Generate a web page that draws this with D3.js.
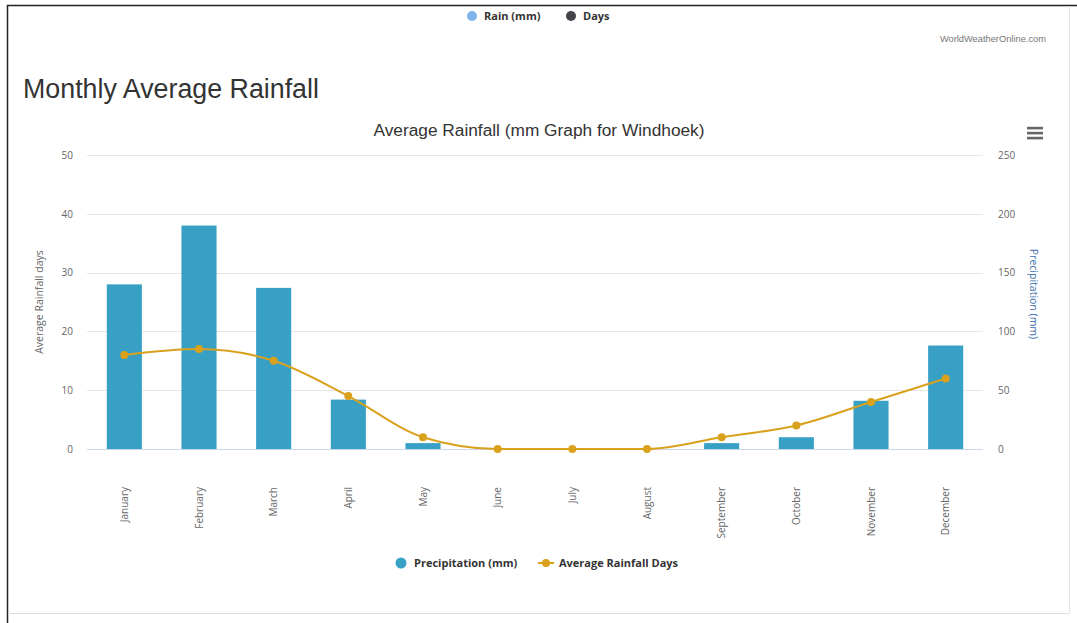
<!DOCTYPE html>
<html>
<head>
<meta charset="utf-8">
<script src="https://cdn.jsdelivr.net/npm/d3@7"></script>
<style>
  body { margin: 0; background: #fff; }
  svg { display: block; }
</style>
</head>
<body>
<svg id="chart"></svg>
<script>
const months = ["January", "February", "March", "April", "May", "June",
    "July", "August", "September", "October", "November", "December"];
const precipitation = [140, 190, 137, 42, 5, 0, 0, 0, 5, 10, 41, 88];
const rainDays = [16, 17, 15, 9, 2, 0, 0, 0, 2, 4, 8, 12];
const dayTicks = [0, 10, 20, 30, 40, 50];
const mmTicks = [0, 50, 100, 150, 200, 250];

const svgWidth = 1077, svgHeight = 623;
const margin = { top: 155, right: 94, bottom: 174, left: 87 };
const width = svgWidth - margin.left - margin.right;
const height = svgHeight - margin.top - margin.bottom;

const barColor = "#38a0c4";
const lineColor = "#d9a11c";
const font = "'Liberation Sans', Arial, sans-serif";
const uiFont = "'Open Sans', 'DejaVu Sans', sans-serif";

const svg = d3.select("#chart")
    .attr("width", svgWidth)
    .attr("height", svgHeight);

// frame
svg.append("line").attr("x1", 7).attr("x2", 1077).attr("y1", 5.5).attr("y2", 5.5)
    .attr("stroke", "#222").attr("stroke-width", 1.5);
svg.append("line").attr("x1", 7.5).attr("x2", 7.5).attr("y1", 5).attr("y2", 623)
    .attr("stroke", "#222").attr("stroke-width", 1.5);
svg.append("line").attr("x1", 1069.5).attr("x2", 1069.5).attr("y1", 6).attr("y2", 613)
    .attr("stroke", "#e4e4e4");
svg.append("line").attr("x1", 8).attr("x2", 1069).attr("y1", 613.5).attr("y2", 613.5)
    .attr("stroke", "#dcdcdc");

// top legend
const topLegend = [
    { label: "Rain (mm)", color: "#7cb5ec", x: 472 },
    { label: "Days", color: "#434348", x: 571 }
];
topLegend.forEach(d => {
    svg.append("circle").attr("cx", d.x).attr("cy", 16).attr("r", 5).attr("fill", d.color);
    svg.append("text").attr("x", d.x + 12).attr("y", 20)
        .attr("font-family", uiFont).attr("font-size", 11).attr("font-weight", "bold")
        .attr("fill", "#333").text(d.label);
});

svg.append("text").attr("x", 1046).attr("y", 42).attr("text-anchor", "end")
    .attr("font-family", font).attr("font-size", 9.3).attr("fill", "#777")
    .text("WorldWeatherOnline.com");

svg.append("text").attr("x", 23).attr("y", 98)
    .attr("font-family", font).attr("font-size", 26.8).attr("fill", "#333")
    .text("Monthly Average Rainfall");

svg.append("text").attr("x", 539).attr("y", 136).attr("text-anchor", "middle")
    .attr("font-family", font).attr("font-size", 17.3).attr("fill", "#333")
    .text("Average Rainfall (mm Graph for Windhoek)");

// hamburger
[128, 133, 138].forEach(y => {
    svg.append("rect").attr("x", 1027).attr("y", y - 1.2).attr("width", 16).attr("height", 2.6)
        .attr("fill", "#666");
});

const g = svg.append("g")
    .attr("transform", "translate(" + margin.left + "," + margin.top + ")");

const x = d3.scaleBand()
    .domain(months)
    .range([0, width])
    .paddingInner(0.53)
    .paddingOuter(0.265);

const xc = d3.scaleBand().domain(months).range([0, width]);

const yDays = d3.scaleLinear().domain([0, 50]).range([height, 0]);
const yMm = d3.scaleLinear().domain([0, 250]).range([height, 0]);

// grid
g.append("g")
    .selectAll("line")
    .data(dayTicks.slice(1))
    .join("line")
    .attr("x1", 0).attr("x2", width)
    .attr("y1", d => Math.round(yDays(d)) + 0.5)
    .attr("y2", d => Math.round(yDays(d)) + 0.5)
    .attr("stroke", "#e6e6e6");

// left axis
const leftAxis = g.append("g")
    .call(d3.axisLeft(yDays).tickValues(dayTicks).tickSize(0).tickPadding(14));
leftAxis.select(".domain").remove();
leftAxis.selectAll("text").attr("font-family", uiFont).attr("font-size", 10).attr("fill", "#666");

// right axis
const rightAxis = g.append("g")
    .attr("transform", "translate(" + width + ",0)")
    .call(d3.axisRight(yMm).tickValues(mmTicks).tickSize(0).tickPadding(15));
rightAxis.select(".domain").remove();
rightAxis.selectAll("text").attr("font-family", uiFont).attr("font-size", 10).attr("fill", "#666");

// axis titles
g.append("text")
    .attr("transform", "translate(-44," + (height / 2) + ") rotate(-90)")
    .attr("text-anchor", "middle")
    .attr("font-family", uiFont).attr("font-size", 10.5).attr("fill", "#666")
    .text("Average Rainfall days");

g.append("text")
    .attr("transform", "translate(" + (width + 47) + "," + (height / 2 - 8) + ") rotate(90)")
    .attr("text-anchor", "middle")
    .attr("font-family", uiFont).attr("font-size", 10.5).attr("fill", "#3d6fb0")
    .text("Precipitation (mm)");

// bars
g.append("g")
    .selectAll("rect")
    .data(precipitation)
    .join("rect")
    .attr("x", (d, i) => x(months[i]))
    .attr("y", d => yMm(d))
    .attr("width", x.bandwidth())
    .attr("height", d => height - yMm(d))
    .attr("fill", barColor);

// x axis baseline
g.append("line")
    .attr("x1", 0).attr("x2", width)
    .attr("y1", height + 0.5).attr("y2", height + 0.5)
    .attr("stroke", "#ccd6eb");

// x labels
const xAxis = g.append("g")
    .attr("transform", "translate(0," + height + ")")
    .call(d3.axisBottom(xc).tickSize(0).tickPadding(0));
xAxis.select(".domain").remove();
xAxis.selectAll("text")
    .attr("font-family", uiFont).attr("font-size", 10).attr("fill", "#666")
    .attr("text-anchor", "end")
    .attr("dy", "0.35em")
    .attr("transform", "translate(0,38) rotate(-90)")
    .attr("x", 0).attr("y", 0);

// line
const line = d3.line()
    .x((d, i) => xc(months[i]) + xc.bandwidth() / 2)
    .y(d => yDays(d))
    .curve(d3.curveMonotoneX);

g.append("path")
    .datum(rainDays)
    .attr("fill", "none")
    .attr("stroke", lineColor)
    .attr("stroke-width", 2)
    .attr("d", line);

g.append("g")
    .selectAll("circle")
    .data(rainDays)
    .join("circle")
    .attr("cx", (d, i) => xc(months[i]) + xc.bandwidth() / 2)
    .attr("cy", d => yDays(d))
    .attr("r", 4)
    .attr("fill", lineColor);

// bottom legend
svg.append("circle").attr("cx", 401).attr("cy", 563).attr("r", 5.5).attr("fill", barColor);
svg.append("text").attr("x", 414).attr("y", 567)
    .attr("font-family", uiFont).attr("font-size", 11).attr("font-weight", "bold")
    .attr("fill", "#333").text("Precipitation (mm)");
svg.append("line").attr("x1", 538).attr("x2", 554).attr("y1", 563).attr("y2", 563)
    .attr("stroke", lineColor).attr("stroke-width", 2);
svg.append("circle").attr("cx", 546).attr("cy", 563).attr("r", 4).attr("fill", lineColor);
svg.append("text").attr("x", 559).attr("y", 567)
    .attr("font-family", uiFont).attr("font-size", 11).attr("font-weight", "bold")
    .attr("fill", "#333").text("Average Rainfall Days");
</script>
</body>
</html>
